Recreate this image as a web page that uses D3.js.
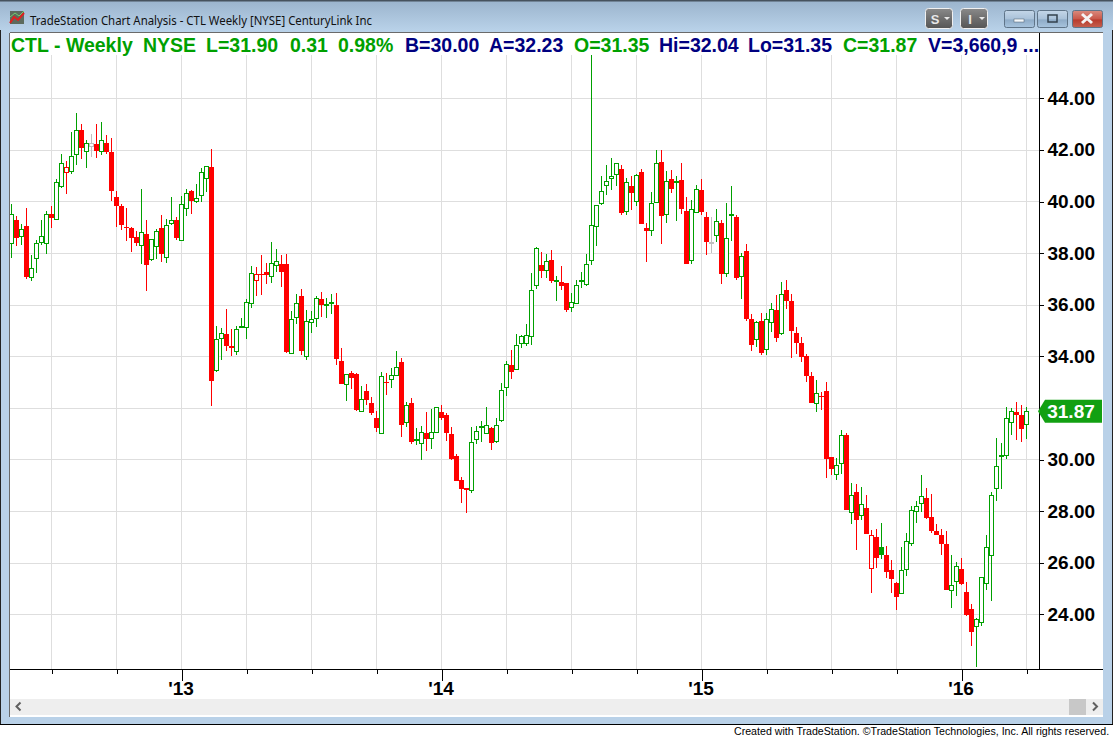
<!DOCTYPE html>
<html>
<head>
<meta charset="utf-8">
<title>CTL Weekly</title>
<script src="https://cdn.jsdelivr.net/npm/d3@7"></script>
<style>
  html, body { margin: 0; padding: 0; background: #fff; overflow: hidden; }
  svg { display: block; }
  text { font-family: "Liberation Sans", Arial, sans-serif; }
</style>
</head>
<body>
<div id="chart"></div>
<script>
const WIDTH = 1113;
const HEIGHT = 738;

const opens = [
  38.38,39.28,38.65,39.05,37.06,37.80,38.40,38.38,39.52,39.31,
  40.59,41.13,41.16,41.83,42.77,41.94,42.15,42.23,41.96,42.27,
  41.92,40.17,39.82,39.01,38.97,38.62,38.30,38.74,37.76,38.26,
  38.97,37.84,39.15,39.28,38.49,39.73,40.41,40.01,40.24,40.90,
  41.34,33.46,34.70,34.86,34.39,34.19,35.14,35.12,36.05,36.94,
  37.19,37.27,37.10,37.53,37.58,37.58,34.11,35.51,36.34,33.99,
  35.32,35.47,36.22,35.99,36.05,35.99,33.82,32.90,33.34,33.31,
  31.85,32.65,32.19,31.61,31.05,32.99,33.11,33.25,33.78,31.44,
  32.19,30.73,30.63,31.01,30.82,31.05,31.84,31.72,30.99,30.14,
  29.21,28.90,28.80,30.78,31.26,31.01,31.22,30.69,31.52,32.80,
  33.66,33.50,34.50,34.50,34.77,36.75,37.54,37.33,37.73,36.92,
  36.88,36.84,35.90,36.05,36.93,36.79,37.71,39.02,39.92,40.61,
  40.92,41.04,41.26,39.61,40.60,39.99,41.14,38.97,38.87,39.95,
  41.53,39.49,40.87,40.77,40.83,39.63,37.71,39.57,40.45,39.40,
  38.40,38.68,39.17,37.21,39.49,39.40,37.09,38.08,35.45,34.66,
  35.37,34.27,35.32,35.80,34.88,36.57,36.14,34.90,34.52,34.01,
  33.24,32.20,32.46,32.65,30.10,29.42,29.84,30.95,27.95,28.74,
  27.83,28.12,25.77,26.99,26.61,26.30,25.72,25.21,24.80,25.73,
  26.75,28.03,28.30,28.51,27.76,27.23,27.07,26.72,24.93,25.26,
  25.76,24.86,24.21,23.53,23.69,25.19,26.29,28.87,30.14,30.16,
  31.44,31.84,31.73,31.35
];
const highs = [
  39.90,39.44,39.13,39.75,37.93,38.51,39.28,39.63,39.83,40.86,
  41.84,41.57,42.69,43.43,43.00,42.37,42.62,43.00,43.08,42.58,
  42.46,40.41,39.90,39.75,39.01,38.86,40.49,39.28,38.53,38.92,
  39.46,39.32,40.17,39.40,40.21,40.47,40.45,40.68,41.29,41.36,
  42.03,35.17,35.10,35.83,35.06,35.17,35.47,36.22,37.50,37.46,
  37.93,37.62,38.43,38.16,37.93,37.97,35.76,36.41,36.61,35.79,
  35.76,36.35,36.49,36.25,36.41,36.45,34.32,33.30,33.43,33.34,
  32.85,32.93,32.42,31.88,33.39,33.34,33.55,34.19,33.93,32.22,
  32.38,31.22,31.30,31.84,31.96,32.02,32.11,31.81,31.26,30.21,
  29.32,28.90,31.26,31.30,31.49,32.03,31.26,31.61,32.96,33.82,
  34.24,34.86,34.81,35.25,37.23,38.24,38.04,37.97,38.12,37.11,
  37.50,36.84,36.45,36.96,37.27,37.97,45.68,39.85,40.99,41.40,
  41.69,41.48,41.40,40.91,40.99,41.05,41.26,39.17,40.36,42.00,
  42.00,41.18,41.22,40.99,41.49,40.17,40.06,40.64,40.87,39.58,
  39.40,39.71,39.28,39.94,40.60,39.48,38.00,38.35,35.64,35.37,
  35.68,35.68,36.07,36.38,36.88,36.97,36.41,35.14,34.75,34.09,
  33.39,33.08,32.62,33.00,30.10,30.06,31.13,31.03,29.09,29.05,
  28.94,28.62,27.27,27.30,27.54,26.65,26.11,25.25,26.61,27.15,
  28.19,28.39,29.40,28.89,28.66,27.49,27.32,27.23,26.30,26.01,
  26.18,25.25,24.40,23.86,25.43,27.07,28.73,30.83,30.64,32.02,
  32.01,32.23,32.10,32.04
];
const lows = [
  37.82,38.27,38.33,37.01,36.93,37.24,38.33,37.98,38.97,39.31,
  40.54,40.30,41.08,41.43,41.65,41.31,41.74,41.70,41.79,41.85,
  40.02,39.02,38.90,38.48,38.06,38.29,37.59,36.54,37.71,37.78,
  37.67,37.63,39.09,38.52,38.49,39.45,39.53,39.96,39.97,40.38,
  32.09,33.41,33.86,34.22,34.01,34.06,35.12,34.68,35.88,36.35,
  36.38,36.80,36.85,37.27,36.70,34.13,34.11,35.26,34.05,33.87,
  34.90,35.14,35.51,35.49,35.64,33.68,32.94,32.27,32.75,31.87,
  31.85,32.11,31.74,31.08,31.05,32.50,32.77,33.25,30.87,31.27,
  30.61,30.56,29.98,30.34,30.42,31.05,31.54,30.73,29.98,29.18,
  28.33,27.94,28.71,30.61,30.69,31.01,30.38,30.65,31.44,32.47,
  33.13,33.46,34.33,34.41,34.45,36.62,37.05,37.05,36.85,36.16,
  36.57,35.73,35.73,36.01,36.65,36.72,37.55,38.27,39.86,40.26,
  40.46,40.61,39.48,39.48,39.67,39.84,39.13,37.66,38.66,39.95,
  38.35,39.17,40.33,39.24,39.52,37.58,37.58,39.57,39.48,37.93,
  38.00,38.43,36.80,37.07,38.47,36.96,36.22,35.37,34.22,34.36,
  34.05,34.06,34.94,34.55,34.83,35.83,33.93,34.09,33.78,33.00,
  32.19,31.84,31.92,29.28,29.40,29.21,29.44,28.04,27.50,26.49,
  27.66,27.12,24.83,25.79,26.14,25.41,24.83,24.17,24.80,25.48,
  26.66,27.53,27.97,27.68,27.15,27.07,26.30,24.94,24.24,24.71,
  25.12,23.93,22.77,21.96,23.53,24.94,24.52,28.39,28.86,30.02,
  30.95,30.76,30.68,30.80
];
const closes = [
  39.50,38.60,38.92,37.09,37.41,38.38,38.65,39.50,39.37,40.74,
  41.48,41.32,41.75,42.76,42.09,42.25,42.25,41.96,42.37,41.92,
  40.42,39.83,39.10,38.97,38.60,38.37,38.81,37.55,38.53,38.84,
  37.98,39.08,39.27,38.59,39.89,40.32,40.03,40.12,41.13,41.36,
  33.05,34.66,34.89,34.41,34.33,35.05,35.16,36.09,37.22,37.18,
  37.15,37.14,37.60,37.68,37.28,34.18,35.43,36.05,34.22,35.35,
  35.43,36.25,36.00,36.03,36.10,33.91,32.94,33.30,33.14,31.92,
  32.33,32.32,31.80,31.23,33.24,32.94,33.26,33.57,31.35,32.10,
  30.69,30.78,31.05,30.77,31.05,32.02,31.62,31.04,30.03,29.18,
  28.87,28.83,30.67,31.09,31.29,31.32,30.65,31.32,32.68,33.69,
  33.37,34.43,34.77,34.81,36.56,38.18,37.32,37.68,36.93,36.96,
  36.74,35.81,36.09,36.75,36.96,37.56,39.08,39.85,40.39,40.78,
  40.99,41.48,39.57,40.74,40.33,41.01,39.13,38.87,39.93,41.48,
  39.45,40.78,40.48,40.81,39.71,37.58,39.70,40.47,39.59,38.43,
  38.43,39.23,37.19,38.57,39.52,37.03,37.87,35.45,34.45,35.32,
  34.14,35.43,35.82,34.71,36.40,36.14,34.99,34.52,33.97,33.24,
  32.19,32.57,32.42,30.02,29.63,29.77,30.94,28.04,28.61,27.66,
  28.26,27.12,27.06,26.18,26.30,25.64,25.37,24.67,25.70,26.83,
  28.03,28.21,28.57,27.72,27.23,27.07,26.74,24.94,25.12,25.86,
  25.16,23.97,23.33,23.80,25.43,26.60,28.61,29.73,30.16,31.60,
  31.87,31.73,31.18,31.87
];

const priceTicks = [24, 26, 28, 30, 32, 34, 36, 38, 40, 42, 44];
const shownPriceTicks = [24, 26, 28, 30, 34, 36, 38, 40, 42, 44]; // 32 is covered by the last price tag
const weekTicks = d3.range(8, 204, 13);
const yearLabels = new Map([[34, "'13"], [86, "'14"], [138, "'15"], [190, "'16"]]);

const headerTexts = ["CTL - Weekly", "NYSE", "L=31.90", "0.31", "0.98%", "B=30.00", "A=32.23", "O=31.35", "Hi=32.04", "Lo=31.35", "C=31.87", "V=3,660,9 ..."];
const headerLeft = [11, 143, 206, 290, 338, 405, 489, 574, 659, 748, 843, 928];
const headerIsGreen = [true, true, true, true, true, false, false, true, false, false, true, false];

const GREEN = '#00a000';
const RED = '#ff0000';
const GRAY = '#c0c0c0';
const GRID = '#dedede';

const bars = closes.map((c, i) => ({
  i, open: opens[i], high: highs[i], low: lows[i], close: c,
  prev: i > 0 ? closes[i - 1] : c - 1
}));

// bar colour follows the previous close, hollow body means it closed above its open
const barColor = d => d.close > d.prev ? GREEN : d.close < d.prev ? RED : GRAY;
const isHollow = d => d.close > d.open;

const x = d3.scaleLinear().domain([0, 203]).range([11.5, 1026.5]);
const y = d3.scaleLinear().domain([24, 44]).range([614.3, 98.3]);
const crisp = v => Math.round(v) + 0.5;

const PLOT_RIGHT = 1039.5;
const PLOT_BOTTOM = 669.5;
const PLOT_TOP = 55;

const svg = d3.select('#chart').append('svg').attr('width', WIDTH).attr('height', HEIGHT);
const defs = svg.append('defs');

const addGradient = (id, stops) => {
  const g = defs.append('linearGradient').attr('id', id).attr('x1', 0).attr('y1', 0).attr('x2', 0).attr('y2', 1);
  stops.forEach(s => g.append('stop').attr('offset', s[0]).attr('stop-color', s[1]));
};
addGradient('titleBar', [[0, '#9bb4cd'], [1, '#bad3ea']]);
addGradient('minBtn', [[0, '#c4d6e8'], [0.5, '#a9c1d9'], [0.55, '#8eabc7'], [1, '#a8c4de']]);
addGradient('closeBtn', [[0, '#d98b7e'], [0.5, '#c9584a'], [0.55, '#b83b2d'], [1, '#c4604f']]);
addGradient('grayBtn', [[0, '#8a8a8a'], [0.5, '#6e6e6e'], [1, '#565656']]);

// window frame
svg.append('rect').attr('width', WIDTH).attr('height', 725).attr('fill', '#b9d1e8');
svg.append('rect').attr('x', 0).attr('y', 1).attr('width', WIDTH).attr('height', 31).attr('fill', 'url(#titleBar)');
svg.append('rect').attr('width', WIDTH).attr('height', 1.5).attr('fill', '#46525e');
svg.append('rect').attr('x', 0).attr('y', 724).attr('width', WIDTH).attr('height', 1).attr('fill', '#000');
svg.append('rect').attr('x', 0).attr('y', 30).attr('width', 1).attr('height', 694).attr('fill', '#222');
svg.append('rect').attr('x', 1112).attr('y', 30).attr('width', 1).attr('height', 694).attr('fill', '#222');
svg.append('rect').attr('x', 10).attr('y', 32).attr('width', 1093).attr('height', 685).attr('fill', '#fff');
svg.append('rect').attr('x', 10).attr('y', 32).attr('width', 1093).attr('height', 1).attr('fill', '#6a6a6a');

// title icon
const iconBox = svg.append('g').attr('transform', 'translate(10,11)');
iconBox.append('rect').attr('width', 14).attr('height', 13).attr('fill', '#5d6a5d');
iconBox.append('path').attr('d', 'M0 12 L4 6 L8 9 L14 2').attr('fill', 'none').attr('stroke', '#e02020').attr('stroke-width', 2);
iconBox.append('path').attr('d', 'M0 6 L5 2 L9 5 L14 0').attr('fill', 'none').attr('stroke', '#6fd06f').attr('stroke-width', 1);

svg.append('text').attr('x', 30).attr('y', 24.5)
  .style('font-family', '"Noto Sans", sans-serif').attr('font-size', 12).attr('fill', '#111')
  .attr('textLength', 342).attr('lengthAdjust', 'spacingAndGlyphs')
  .text('TradeStation Chart Analysis - CTL Weekly [NYSE] CenturyLink Inc');

// title bar buttons
[[925, 'S'], [960, 'I']].forEach(b => {
  svg.append('rect').attr('x', b[0] + 0.5).attr('y', 8.5).attr('width', 27).attr('height', 20).attr('rx', 3)
    .attr('fill', 'url(#grayBtn)').attr('stroke', '#f0f0f0');
  svg.append('text').attr('x', b[0] + 10).attr('y', 24).attr('text-anchor', 'middle')
    .attr('font-size', 13).attr('font-weight', 'bold').attr('fill', '#e8e8e8').text(b[1]);
  svg.append('path').attr('d', `M${b[0] + 19} 17 h6 l-3 3 z`).attr('fill', '#e8e8e8');
});
[[1004, 'minBtn'], [1037, 'minBtn'], [1072, 'closeBtn']].forEach(b => {
  svg.append('rect').attr('x', b[0] + 0.5).attr('y', 10.5).attr('width', 30).attr('height', 17).attr('rx', 2)
    .attr('fill', `url(#${b[1]})`).attr('stroke', '#5f7488');
});
svg.append('rect').attr('x', 1014).attr('y', 19).attr('width', 10).attr('height', 3).attr('fill', '#f4f8fb').attr('stroke', '#4a5a68').attr('stroke-width', 0.5);
svg.append('rect').attr('x', 1048).attr('y', 15).attr('width', 9).attr('height', 7).attr('fill', 'none').attr('stroke', '#33414e').attr('stroke-width', 1.5);
svg.append('path').attr('d', 'M1082 14 L1092 23 M1092 14 L1082 23').attr('stroke', '#f4f4f4').attr('stroke-width', 3);

// header line
svg.append('g').selectAll('text').data(headerTexts).enter().append('text')
  .attr('x', (d, i) => headerLeft[i])
  .attr('y', 52)
  .attr('font-size', 19.5).attr('font-weight', 'bold')
  .attr('fill', (d, i) => headerIsGreen[i] ? GREEN : '#000080')
  .text(d => d);

// grid
const grid = svg.append('g').attr('shape-rendering', 'crispEdges');
grid.selectAll('.v').data(weekTicks).enter().append('line').attr('class', 'v')
  .attr('x1', d => x(d)).attr('x2', d => x(d))
  .attr('y1', PLOT_TOP).attr('y2', PLOT_BOTTOM)
  .attr('stroke', GRID);
grid.selectAll('.h').data(priceTicks).enter().append('line').attr('class', 'h')
  .attr('x1', 10).attr('x2', PLOT_RIGHT)
  .attr('y1', d => crisp(y(d))).attr('y2', d => crisp(y(d)))
  .attr('stroke', GRID);

// candles
const candles = svg.append('g').attr('shape-rendering', 'crispEdges')
  .selectAll('g').data(bars).enter().append('g');
candles.append('line')
  .attr('x1', d => x(d.i)).attr('x2', d => x(d.i))
  .attr('y1', d => y(d.high)).attr('y2', d => y(d.low))
  .attr('stroke', barColor);
candles.append('rect')
  .attr('x', d => x(d.i) - (isHollow(d) ? 2 : 2.5))
  .attr('width', d => isHollow(d) ? 4 : 5)
  .attr('y', d => isHollow(d) ? crisp(y(Math.max(d.open, d.close))) : Math.round(y(Math.max(d.open, d.close))))
  .attr('height', d => Math.max(1, Math.round(Math.abs(y(d.open) - y(d.close)))))
  .attr('fill', d => isHollow(d) ? '#fff' : barColor(d))
  .attr('stroke', d => isHollow(d) ? barColor(d) : 'none');

// frame pieces that sit over the first candle
svg.append('rect').attr('x', 2).attr('y', 33).attr('width', 7).attr('height', 684).attr('fill', '#b9d1e8');
svg.append('rect').attr('x', 9).attr('y', 33).attr('width', 1).attr('height', 684).attr('fill', '#6a6a6a');

// axes
const yAxis = d3.axisRight(y).tickValues(shownPriceTicks).tickSize(4).tickPadding(4).tickFormat(d3.format('.2f'));
const yG = svg.append('g').attr('transform', `translate(${PLOT_RIGHT},0)`).call(yAxis);
yG.select('.domain').remove();
yG.selectAll('text').attr('font-size', 19).attr('font-weight', 'bold').attr('fill', '#000')
  .style('font-family', '"Liberation Sans", Arial, sans-serif');
yG.selectAll('line').attr('stroke', '#000').attr('shape-rendering', 'crispEdges');
svg.append('line').attr('x1', PLOT_RIGHT).attr('x2', PLOT_RIGHT).attr('y1', 33).attr('y2', PLOT_BOTTOM)
  .attr('stroke', '#000').attr('shape-rendering', 'crispEdges');

const xAxis = d3.axisBottom(x).tickValues(weekTicks).tickSize(4)
  .tickFormat(d => yearLabels.get(d) || '');
const xG = svg.append('g').attr('transform', `translate(0,${PLOT_BOTTOM})`).call(xAxis);
xG.select('.domain').remove();
xG.selectAll('line').attr('stroke', '#000').attr('shape-rendering', 'crispEdges')
  .attr('y2', d => yearLabels.has(d) ? 11 : 4);
xG.selectAll('text').attr('font-size', 19).attr('font-weight', 'bold').attr('fill', '#000')
  .attr('dy', 0).attr('y', 25).attr('dx', -1)
  .style('font-family', '"Liberation Sans", Arial, sans-serif');
svg.append('line').attr('x1', 10).attr('x2', 1103).attr('y1', PLOT_BOTTOM).attr('y2', PLOT_BOTTOM)
  .attr('stroke', '#000').attr('shape-rendering', 'crispEdges');

// last price tag
const lastClose = closes[closes.length - 1];
const tagY = y(lastClose);
svg.append('path')
  .attr('d', `M1038 ${tagY} L1045 ${tagY - 11.5} H1102 V${tagY + 11.5} H1045 Z`)
  .attr('fill', '#12a012');
svg.append('text').attr('x', 1071).attr('y', tagY + 7).attr('text-anchor', 'middle')
  .attr('font-size', 19).attr('font-weight', 'bold').attr('fill', '#fff')
  .text(lastClose.toFixed(2));

// scroll bar
svg.append('rect').attr('x', 10).attr('y', 699).attr('width', 1093).attr('height', 16).attr('fill', '#eeeeee');
svg.append('rect').attr('x', 1069).attr('y', 699).attr('width', 17).attr('height', 16).attr('fill', '#c8c8c8');
svg.append('path').attr('d', 'M20.5 702.5 L16.5 706.5 L20.5 710.5').attr('fill', 'none').attr('stroke', '#606060').attr('stroke-width', 2);
svg.append('path').attr('d', 'M1093 702.5 L1097 706.5 L1093 710.5').attr('fill', 'none').attr('stroke', '#606060').attr('stroke-width', 2);

// footer
svg.append('text').attr('transform', 'translate(734,735) scale(0.925,1)')
  .attr('font-size', 11.5).attr('fill', '#000')
  .text('Created with TradeStation. ©TradeStation Technologies, Inc. All rights reserved.');
</script>
</body>
</html>
